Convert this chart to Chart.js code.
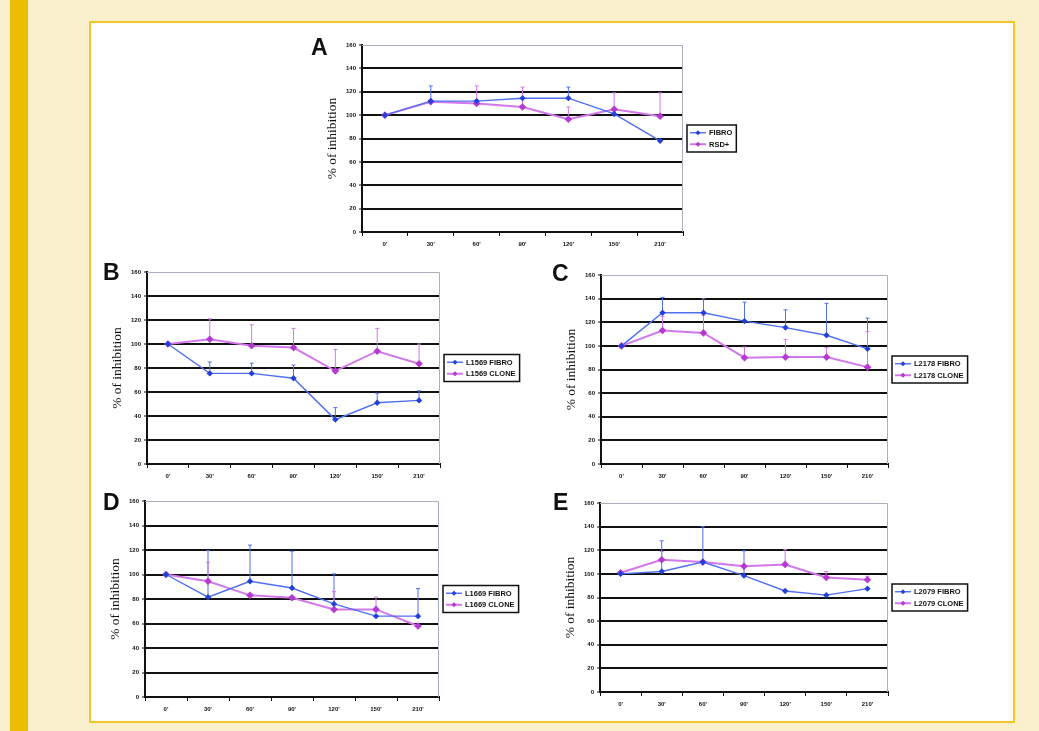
<!DOCTYPE html>
<html>
<head>
<meta charset="utf-8">
<script src="https://cdn.jsdelivr.net/npm/chart.js@4/dist/chart.umd.min.js"></script>
<style>
  html, body { margin: 0; padding: 0; }
  body { width: 1039px; height: 731px; background: #fbf0cd; position: relative; overflow: hidden; font-family: "Liberation Sans", Arial, sans-serif; }
  #stripe { position: absolute; left: 10px; top: 0; width: 18px; height: 731px; background: #ecbd00; }
  #frame { position: absolute; left: 89px; top: 21px; width: 922px; height: 698px; background: #fff; border: 2px solid #f5c726; }
  canvas { position: absolute; }
  .letter { position: absolute; font: bold 23px "Liberation Sans", Arial, sans-serif; color: #111; line-height: 1; }
</style>
</head>
<body>
<div id="stripe"></div>
<div id="frame"></div>
<canvas id="chartA"></canvas>
<canvas id="chartB"></canvas>
<canvas id="chartC"></canvas>
<canvas id="chartD"></canvas>
<canvas id="chartE"></canvas>
<div class="letter" style="left:311px;top:36px">A</div>
<div class="letter" style="left:103px;top:261px">B</div>
<div class="letter" style="left:552px;top:262px">C</div>
<div class="letter" style="left:103px;top:491px">D</div>
<div class="letter" style="left:553px;top:491px">E</div>
<script>
// ===== Data =====
const timeLabels = ["0'", "30'", "60'", "90'", "120'", "150'", "210'"];
const yTicks = [0, 20, 40, 60, 80, 100, 120, 140, 160];

const aFibro = [100, 112, 112, 114.5, 114.5, 101, 78];
const aFibroErr = [0, 13, 0, 0, 9.5, 0, 0];
const aClone = [100, 111.5, 110, 107, 96.5, 105, 99];
const aCloneErr = [0, 0, 15, 17, 10.5, 14, 20];

const bFibro = [100, 75.5, 75.5, 71.5, 37, 51, 53];
const bFibroErr = [0, 9.5, 8.5, 11, 10, 8, 8];
const bClone = [100, 104, 98.5, 97, 77.5, 94, 83.5];
const bCloneErr = [0, 17, 17.5, 16, 18, 19, 16.5];

const cFibro = [100, 128, 128, 121, 115.5, 109, 97.5];
const cFibroErr = [0, 13, 12, 16, 15, 27, 26];
const cClone = [100, 113, 111, 90, 90.5, 90.5, 82];
const cCloneErr = [0, 12, 15, 9, 15, 8, 30];

const dFibro = [100, 81.5, 94.5, 89, 76, 66, 66];
const dFibroErr = [0, 38, 29.5, 30, 24.5, 0, 22.5];
const dClone = [100, 94.5, 83, 81, 71.5, 71.5, 58];
const dCloneErr = [0, 15.5, 0, 0, 14.5, 10, 0];

const eFibro = [100, 102, 110, 98.5, 85.5, 82, 87.5];
const eFibroErr = [0, 26, 30, 21, 0, 0, 0];
const eClone = [101, 112, 110, 106.5, 108, 97, 95];
const eCloneErr = [0, 7, 0, 0, 12.5, 5, 3];

const seriesNames = {
    A: ["FIBRO", "RSD+"],
    B: ["L1569 FIBRO", "L1569 CLONE"],
    C: ["L2178 FIBRO", "L2178 CLONE"],
    D: ["L1669 FIBRO", "L1669 CLONE"],
    E: ["L2079 FIBRO", "L2079 CLONE"]
};

// ===== Layout (plot area in page pixels) =====
const Y_W = 42, PAD_TOP = 10, X_H = 22, PAD_RIGHT = 95;
const BLUE = "#4f6ff0", BLUE_DARK = "#2440d8";
const PINK = "#d278ea", PINK_DARK = "#b53ad0";

// ===== Plugins =====
const errorBars = {
    id: "errorBars",
    beforeDatasetsDraw(chart) {
        const ctx = chart.ctx;
        const y = chart.scales.y;
        ctx.save();
        chart.data.datasets.forEach((ds, i) => {
            const meta = chart.getDatasetMeta(i);
            ctx.strokeStyle = ds.borderColor;
            ctx.lineWidth = 1;
            ds.errors.forEach((err, j) => {
                if (!err) return;
                const pt = meta.data[j];
                const top = y.getPixelForValue(ds.data[j] + err);
                ctx.beginPath();
                ctx.moveTo(pt.x, pt.y);
                ctx.lineTo(pt.x, top);
                ctx.moveTo(pt.x - 2, top);
                ctx.lineTo(pt.x + 2, top);
                ctx.stroke();
            });
        });
        ctx.restore();
    }
};

const frameLines = {
    id: "frameLines",
    beforeDatasetsDraw(chart) {
        const a = chart.chartArea, ctx = chart.ctx;
        ctx.save();
        ctx.strokeStyle = "#aab0c0";
        ctx.lineWidth = 1;
        ctx.beginPath();
        ctx.moveTo(a.left, a.top + 0.5);
        ctx.lineTo(a.right - 0.5, a.top + 0.5);
        ctx.lineTo(a.right - 0.5, a.bottom);
        ctx.stroke();
        ctx.restore();
    }
};

const legendBox = {
    id: "legendBox",
    afterDraw(chart) {
        const ctx = chart.ctx, a = chart.chartArea;
        const ds = chart.data.datasets;
        ctx.save();
        ctx.font = "bold 7.5px 'Liberation Sans', Arial, sans-serif";
        const textW = Math.max(...ds.map(d => ctx.measureText(d.label).width));
        const rowH = 11.5;
        const w = 3 + 16 + 3 + textW + 4;
        const h = ds.length * rowH + 4;
        const x = a.right + 4;
        const y = (a.top + a.bottom) / 2 - h / 2;
        ctx.fillStyle = "#fff";
        ctx.fillRect(x, y, w, h);
        ctx.strokeStyle = "#111";
        ctx.lineWidth = 1.5;
        ctx.strokeRect(x, y, w, h);
        ds.forEach((d, i) => {
            const cy = y + 2 + rowH * i + rowH / 2;
            ctx.strokeStyle = d.borderColor;
            ctx.lineWidth = d.borderWidth;
            ctx.beginPath();
            ctx.moveTo(x + 3, cy);
            ctx.lineTo(x + 19, cy);
            ctx.stroke();
            ctx.fillStyle = d.pointBackgroundColor;
            ctx.beginPath();
            ctx.moveTo(x + 11, cy - 2.5);
            ctx.lineTo(x + 13.5, cy);
            ctx.lineTo(x + 11, cy + 2.5);
            ctx.lineTo(x + 8.5, cy);
            ctx.closePath();
            ctx.fill();
            ctx.fillStyle = "#111";
            ctx.textBaseline = "middle";
            ctx.fillText(d.label, x + 22, cy + 0.5);
        });
        ctx.restore();
    }
};

// ===== Panel builder =====
function buildPanel(id, names, fibro, fibroErr, clone, cloneErr, area) {
    const canvas = document.getElementById(id);
    const w = Y_W + (area.right - area.left) + PAD_RIGHT;
    const h = PAD_TOP + (area.bottom - area.top) + X_H;
    canvas.width = w;
    canvas.height = h;
    canvas.style.width = w + "px";
    canvas.style.height = h + "px";
    canvas.style.left = (area.left - Y_W) + "px";
    canvas.style.top = (area.top - PAD_TOP) + "px";

    const tickFont = { family: "'Liberation Sans', Arial, sans-serif", size: 6, weight: "bold" };

    new Chart(canvas, {
        type: "line",
        data: {
            labels: timeLabels,
            datasets: [
                {
                    label: names[0], data: fibro, errors: fibroErr,
                    borderColor: BLUE, borderWidth: 1.4,
                    pointStyle: "rectRot", pointRadius: 2.2,
                    pointBackgroundColor: BLUE_DARK, pointBorderColor: BLUE_DARK,
                    tension: 0, order: 1
                },
                {
                    label: names[1], data: clone, errors: cloneErr,
                    borderColor: PINK, borderWidth: 2,
                    pointStyle: "rectRot", pointRadius: 2.4,
                    pointBackgroundColor: PINK_DARK, pointBorderColor: PINK_DARK,
                    tension: 0, order: 2
                }
            ]
        },
        options: {
            responsive: false,
            animation: false,
            devicePixelRatio: 1,
            layout: { padding: { top: PAD_TOP, right: PAD_RIGHT, left: 0, bottom: 0 } },
            plugins: { legend: { display: false }, tooltip: { enabled: false } },
            scales: {
                x: {
                    offset: true,
                    grid: { display: true, drawOnChartArea: false, drawTicks: true, tickLength: 4, color: "#111", offset: true },
                    border: { color: "#111", width: 2 },
                    ticks: { color: "#111", font: tickFont, padding: 5, maxRotation: 0 },
                    afterFit(s) { s.height = X_H; }
                },
                y: {
                    min: 0, max: 160,
                    afterBuildTicks(s) { s.ticks = yTicks.map(v => ({ value: v })); },
                    grid: {
                        color: c => c.tick && c.tick.value === 160 ? "rgba(0,0,0,0)" : "#111",
                        lineWidth: c => c.tick && c.tick.value === 0 ? 0 : 2,
                        tickLength: 3, drawTicks: true, tickColor: "#111", tickWidth: 1
                    },
                    border: { color: "#111", width: 2 },
                    ticks: { color: "#111", font: tickFont, padding: 3 },
                    title: {
                        display: true, text: "% of inhibition", color: "#111",
                        font: { family: "'Liberation Serif', 'Times New Roman', serif", size: 13.5 },
                        padding: { top: 4, bottom: 0 }
                    },
                    afterFit(s) { s.width = Y_W; }
                }
            }
        },
        plugins: [frameLines, errorBars, legendBox]
    });
}

buildPanel("chartA", seriesNames.A, aFibro, aFibroErr, aClone, aCloneErr, { left: 362, right: 683, top: 45, bottom: 232 });
buildPanel("chartB", seriesNames.B, bFibro, bFibroErr, bClone, bCloneErr, { left: 147, right: 440, top: 272, bottom: 464 });
buildPanel("chartC", seriesNames.C, cFibro, cFibroErr, cClone, cCloneErr, { left: 601, right: 888, top: 275, bottom: 464 });
buildPanel("chartD", seriesNames.D, dFibro, dFibroErr, dClone, dCloneErr, { left: 145, right: 439, top: 501, bottom: 697 });
buildPanel("chartE", seriesNames.E, eFibro, eFibroErr, eClone, eCloneErr, { left: 600, right: 888, top: 503, bottom: 692 });
</script>
</body>
</html>
